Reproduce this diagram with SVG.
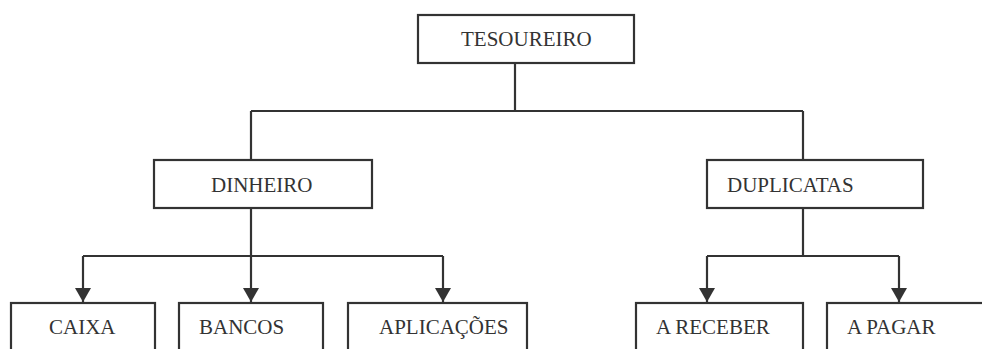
<svg xmlns="http://www.w3.org/2000/svg" width="982" height="349" viewBox="0 0 982 349">
<style>
.box{fill:#fff;stroke:#333;stroke-width:2.2}
.lbl{font-family:"Liberation Serif","Times New Roman",serif;font-size:21px;fill:#333}
.ln{fill:none;stroke:#333;stroke-width:2.2}
</style>
<defs>
<marker id="ah" viewBox="0 0 14 16" refX="14" refY="8" markerWidth="14" markerHeight="16" markerUnits="userSpaceOnUse" orient="auto">
<path d="M0,0 L14,8 L0,16 Z" fill="#333"/>
</marker>
</defs>
<rect width="982" height="349" fill="#fff"/>
<g id="connectors">
<path class="ln" d="M515,63 V111 M251,111 H803 M251,111 V160 M803,111 V160"/>
<path class="ln" d="M251,208 V256 M83,256 H443"/>
<path class="ln" d="M83,256 V302" marker-end="url(#ah)"/>
<path class="ln" d="M251,256 V302" marker-end="url(#ah)"/>
<path class="ln" d="M443,256 V302" marker-end="url(#ah)"/>
<path class="ln" d="M803,208 V256 M707,256 H899"/>
<path class="ln" d="M707,256 V302" marker-end="url(#ah)"/>
<path class="ln" d="M899,256 V302" marker-end="url(#ah)"/>
</g>
<g id="tesoureiro"><rect class="box" x="418" y="15" width="216" height="48"/><text class="lbl" x="461" y="46">TESOUREIRO</text></g>
<g id="dinheiro"><rect class="box" x="154" y="160" width="218" height="48"/><text class="lbl" x="211" y="192">DINHEIRO</text></g>
<g id="duplicatas"><rect class="box" x="707" y="160" width="216" height="48"/><text class="lbl" x="727" y="192">DUPLICATAS</text></g>
<g id="caixa"><rect class="box" x="11" y="303" width="144" height="60"/><text class="lbl" x="49" y="334">CAIXA</text></g>
<g id="bancos"><rect class="box" x="179" y="303" width="144" height="60"/><text class="lbl" x="199" y="334">BANCOS</text></g>
<g id="aplicacoes"><rect class="box" x="348" y="303" width="179" height="60"/><text class="lbl" x="379" y="334">APLICAÇÕES</text></g>
<g id="areceber"><rect class="box" x="636" y="303" width="167" height="60"/><text class="lbl" x="656" y="334">A RECEBER</text></g>
<g id="apagar"><rect class="box" x="827" y="303" width="170" height="60"/><text class="lbl" x="847" y="334">A PAGAR</text></g>
</svg>
